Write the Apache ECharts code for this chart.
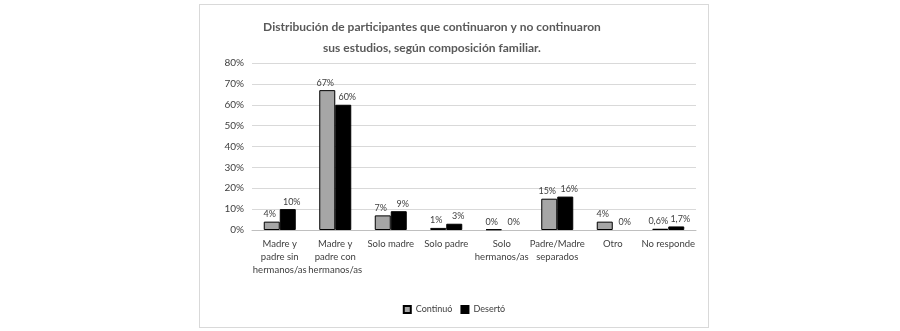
<!DOCTYPE html>
<html>
<head>
<meta charset="utf-8">
<script src="https://cdn.jsdelivr.net/npm/echarts@6/dist/echarts.min.js"></script>
<style>
    html, body { margin: 0; padding: 0; background: #fff; }
    #box {
        position: absolute; left: 199px; top: 4px;
        width: 508px; height: 322px;
        border: 1px solid #d9d9d9;
    }
    #chart { width: 508px; height: 322px; }
</style>
</head>
<body>
<div id="box"><div id="chart"></div></div>
<script>
    // categorías (con saltos de línea como en el original)
    var categories = [
        "Madre y\npadre sin\nhermanos/as",
        "Madre y\npadre con\nhermanos/as",
        "Solo madre",
        "Solo padre",
        "Solo\nhermanos/as",
        "Padre/Madre\nseparados",
        "Otro",
        "No responde"
    ];
    var continuo = [4, 67, 7, 1, 0.3, 15, 4, 0.6];
    var deserto = [10, 60, 9, 3, 0, 16, 0, 1.7];
    var continuoLabels = ["4%", "67%", "7%", "1%", "0%", "15%", "4%", "0,6%"];
    var desertoLabels = ["10%", "60%", "9%", "3%", "0%", "16%", "0%", "1,7%"];
    var yTicks = [0, 10, 20, 30, 40, 50, 60, 70, 80];

    var font = "Lato";
    var chart = echarts.init(document.getElementById("chart"));

    function labelFor(arr, dx) {
        return {
            show: true,
            position: "top",
            distance: 3,
            offset: [dx, 0],
            color: "#404040",
            fontFamily: font,
            fontSize: 9,
            formatter: function(p) { return arr[p.dataIndex]; }
        };
    }

    // sin borde cuando el valor es 0 (Excel no dibuja la barra)
    function barData(arr) {
        return arr.map(function(v) {
            return v === 0 ? { value: v, itemStyle: { borderWidth: 0 } } : v;
        });
    }

    chart.setOption({
        animation: false,
        textStyle: { fontFamily: font },
        title: {
            text: "Distribución de participantes que continuaron y no continuaron\nsus estudios, según composición familiar.",
            left: 227,
            top: 7,
            textAlign: "center",
            textStyle: {
                fontFamily: font,
                fontSize: 12,
                fontWeight: "bold",
                color: "#595959",
                lineHeight: 21
            }
        },
        legend: {
            bottom: 8,
            left: "center",
            icon: "rect",
            itemWidth: 7,
            itemHeight: 7,
            itemGap: 8,
            textStyle: { fontFamily: font, fontSize: 9, color: "#404040" },
            data: ["Continuó", "Desertó"]
        },
        grid: { left: 52, right: 12, top: 58, bottom: 97 },
        xAxis: {
            type: "category",
            data: categories,
            axisLine: { lineStyle: { color: "#bfbfbf" } },
            axisTick: { show: false },
            axisLabel: {
                interval: 0,
                color: "#404040",
                fontFamily: font,
                fontSize: 9.5,
                lineHeight: 13,
                margin: 7
            }
        },
        yAxis: {
            type: "value",
            min: yTicks[0],
            max: yTicks[yTicks.length - 1],
            interval: 10,
            axisLine: { show: false },
            axisTick: { show: false },
            splitLine: { lineStyle: { color: "#d9d9d9" } },
            axisLabel: {
                color: "#404040",
                fontFamily: font,
                fontSize: 10,
                margin: 8,
                formatter: "{value}%"
            }
        },
        series: [
            {
                name: "Continuó",
                type: "bar",
                data: barData(continuo),
                barWidth: 16,
                barGap: "0%",
                itemStyle: { color: "#a6a6a6", borderColor: "#000", borderWidth: 1 },
                label: labelFor(continuoLabels, -2)
            },
            {
                name: "Desertó",
                type: "bar",
                data: barData(deserto),
                barWidth: 16,
                itemStyle: { color: "#000", borderColor: "#000", borderWidth: 1 },
                label: labelFor(desertoLabels, 4)
            }
        ]
    });
</script>
</body>
</html>
